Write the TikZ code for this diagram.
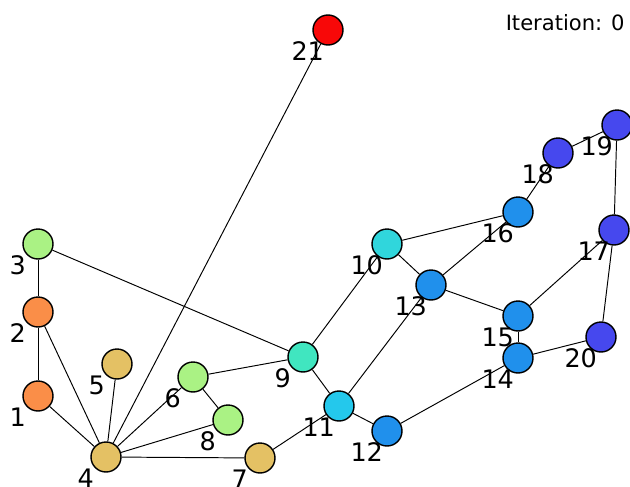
\documentclass[tikz,border=0pt]{standalone}
\usepackage{fontspec}
\setmainfont{DejaVu Sans}
\usepackage{tikz}
\usetikzlibrary{backgrounds}
\definecolor{cred}{RGB}{248,8,8}
\definecolor{corange}{RGB}{250,142,72}
\definecolor{ctan}{RGB}{228,193,100}
\definecolor{cgreen}{RGB}{170,242,132}
\definecolor{caqua}{RGB}{64,230,192}
\definecolor{cteal}{RGB}{48,214,220}
\definecolor{ccyan}{RGB}{36,200,236}
\definecolor{cblue}{RGB}{32,144,236}
\definecolor{cviolet}{RGB}{70,72,238}
\tikzset{
  vtx/.style={circle, draw=black, line width=0.8pt,
    minimum size=0.6cm, inner sep=0pt},
  lbl/.style={font=\fontsize{14.5}{16}\selectfont, anchor=center,
    inner sep=0pt, label distance=0.27cm},
  link/.style={draw=black, line width=0.55pt}
}

\begin{document}
\begin{tikzpicture}[x=0.02cm, y=-0.02cm]
  \useasboundingbox (0,0) rectangle (630,487);
  % Vertices
  \node[vtx, fill=corange, label={[lbl]-134:1}] (n1) at (38,396) {};
  \node[vtx, fill=corange, label={[lbl]-134:2}] (n2) at (38,312) {};
  \node[vtx, fill=cgreen, label={[lbl]-134:3}] (n3) at (38,244) {};
  \node[vtx, fill=ctan, label={[lbl]-134:4}] (n4) at (106,457) {};
  \node[vtx, fill=ctan, label={[lbl]-134:5}] (n5) at (117,364) {};
  \node[vtx, fill=cgreen, label={[lbl]-134:6}] (n6) at (193,377) {};
  \node[vtx, fill=ctan, label={[lbl]-134:7}] (n7) at (260,458) {};
  \node[vtx, fill=cgreen, label={[lbl]-134:8}] (n8) at (228,420) {};
  \node[vtx, fill=caqua, label={[lbl]-134:9}] (n9) at (303,357) {};
  \node[vtx, fill=cteal, label={[lbl]-134:10}] (n10) at (387,244) {};
  \node[vtx, fill=ccyan, label={[lbl]-134:11}] (n11) at (339,406) {};
  \node[vtx, fill=cblue, label={[lbl]-134:12}] (n12) at (387,431) {};
  \node[vtx, fill=cblue, label={[lbl]-134:13}] (n13) at (431,285) {};
  \node[vtx, fill=cblue, label={[lbl]-134:14}] (n14) at (518,358) {};
  \node[vtx, fill=cblue, label={[lbl]-134:15}] (n15) at (518,316) {};
  \node[vtx, fill=cblue, label={[lbl]-134:16}] (n16) at (518,212) {};
  \node[vtx, fill=cviolet, label={[lbl]-134:17}] (n17) at (614,230) {};
  \node[vtx, fill=cviolet, label={[lbl]-134:18}] (n18) at (558,153) {};
  \node[vtx, fill=cviolet, label={[lbl]-134:19}] (n19) at (617,125) {};
  \node[vtx, fill=cviolet, label={[lbl]-134:20}] (n20) at (601,337) {};
  \node[vtx, fill=cred, label={[lbl]-134:21}] (n21) at (328,30) {};
  % Caption
  \node[anchor=base east, font=\fontsize{12}{14}\selectfont, inner sep=0pt]
    (iter) at (625,30) {Iteration: 0};
  % Edges
  \begin{pgfonlayer}{background}
    \draw[link] (n21) -- (n4);
    \draw[link] (n3) -- (n2);
    \draw[link] (n2) -- (n1);
    \draw[link] (n3) -- (n9);
    \draw[link] (n2) -- (n4);
    \draw[link] (n1) -- (n4);
    \draw[link] (n5) -- (n4);
    \draw[link] (n6) -- (n4);
    \draw[link] (n8) -- (n4);
    \draw[link] (n7) -- (n4);
    \draw[link] (n6) -- (n9);
    \draw[link] (n6) -- (n8);
    \draw[link] (n7) -- (n11);
    \draw[link] (n9) -- (n10);
    \draw[link] (n9) -- (n11);
    \draw[link] (n11) -- (n12);
    \draw[link] (n11) -- (n13);
    \draw[link] (n10) -- (n13);
    \draw[link] (n10) -- (n16);
    \draw[link] (n13) -- (n16);
    \draw[link] (n13) -- (n15);
    \draw[link] (n16) -- (n18);
    \draw[link] (n18) -- (n19);
    \draw[link] (n19) -- (n17);
    \draw[link] (n17) -- (n15);
    \draw[link] (n17) -- (n20);
    \draw[link] (n20) -- (n14);
    \draw[link] (n15) -- (n14);
    \draw[link] (n14) -- (n12);
  \end{pgfonlayer}
\end{tikzpicture}
\end{document}
